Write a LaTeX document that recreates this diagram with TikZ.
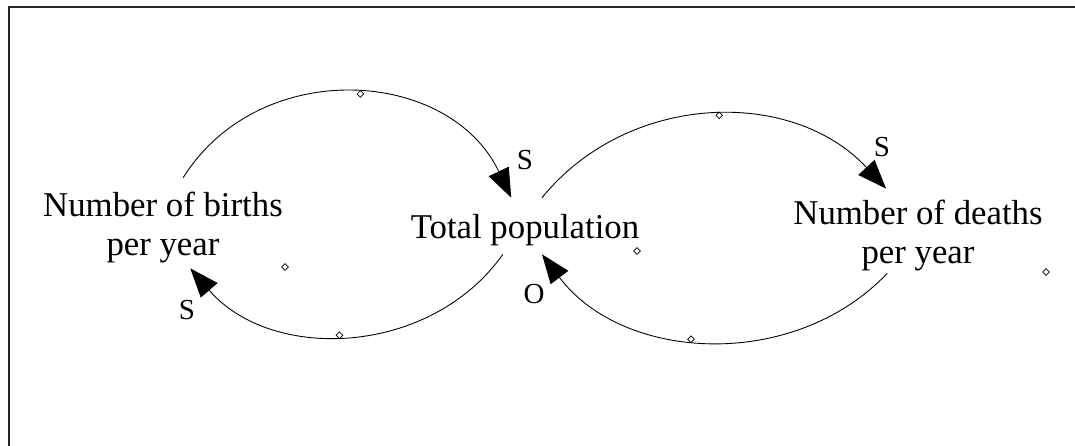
\documentclass[tikz,border=0pt]{standalone}
\usepackage{fontspec}
\setmainfont{Liberation Serif}
\usetikzlibrary{arrows.meta, shapes.geometric}

\begin{document}
\begin{tikzpicture}[
        x=0.02cm, y=0.02cm,
        var/.style={
            rectangle, inner sep=0pt, minimum height=#1, align=center,
            font=\fontsize{19.8}{21.8}\selectfont,
        },
        link/.style={
            line width=0.5pt, -{Triangle[length=0.58cm, width=0.44cm]},
        },
        handle/.style={
            diamond, draw, fill=white, inner sep=0pt,
            minimum size=0.14cm, line width=0.4pt,
        },
        sign/.style={font=\fontsize{16.5}{18}\selectfont, inner sep=0pt},
    ]
        \useasboundingbox (0,0) rectangle (1075,446);
        \draw[line width=1.1pt, black!85] (9,0) -- (9,439) -- (1075,439);

        \node[var=1.8cm] (births) at (163,223) {\rule{0pt}{19pt}Number of births\\per year};
        \node[var=1.12cm] (pop) at (525,220) {\rule{0pt}{19pt}Total population};
        \node[var=1.68cm] (deaths) at (918,215) {\rule{0pt}{19pt}Number of deaths\\per year};

        \draw[link] (births.66) to[out=57.9, in=115.4, looseness=1.12] node[handle, pos=.52] {} (pop.116);
        \draw[link] (pop.-128) to[out=-125.3, in=-49.2, looseness=1.02] node[handle, pos=.53] {} (births.-59);
        \draw[link] (pop.59) to[out=50.8, in=132.8, looseness=1.02] node[handle, pos=.52] {} (deaths.127);
        \draw[link] (deaths.-126) to[out=-133.6, in=-53, looseness=1.0] node[handle, pos=.55] {} (pop.-59);

        \node[handle] (hb) at (285,179) {};
        \node[handle] (hp) at (637,195) {};
        \node[handle] (hd) at (1046,174) {};

        \node[sign] (s1) at (525,286) {S};
        \node[sign] (s2) at (187,136) {S};
        \node[sign] (s3) at (882,299) {S};
        \node[sign] (o1) at (534,152) {O};
    \end{tikzpicture}
\end{document}
